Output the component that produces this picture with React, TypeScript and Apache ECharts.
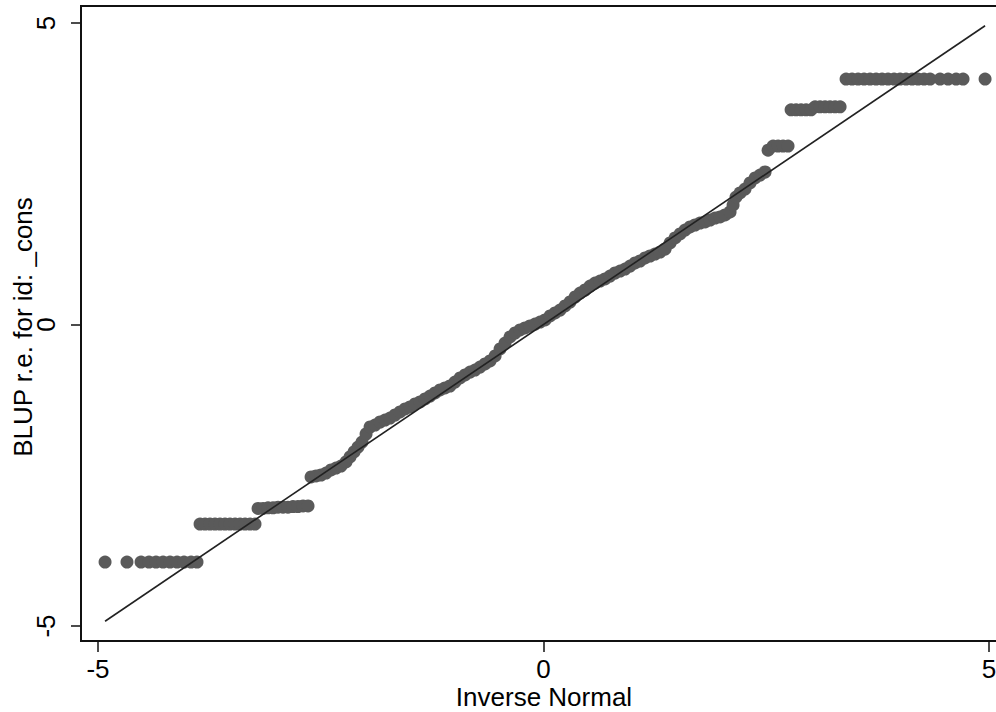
import React, { useEffect, useRef } from "react";
import * as echarts from "echarts";

// Inverse-normal quantiles (x) and the matching sorted BLUP values (y)
const invNormal: number[] = [
  -4.921, -4.675, -4.517, -4.428, -4.349, -4.27, -4.192, -4.113, -4.035, -3.956, -3.889,
  -3.855, -3.799, -3.743, -3.687, -3.631, -3.575, -3.519, -3.462, -3.406, -3.35, -3.294, -3.238,
  -3.204, -3.148, -3.092, -3.036, -2.98, -2.924, -2.868, -2.812, -2.756, -2.699, -2.643,
  -2.609, -2.553, -2.497, -2.441, -2.385, -2.329, -2.273, -2.217, -2.172, -2.127, -2.082, -2.037,
  -1.992, -1.947, -1.891, -1.835, -1.779, -1.723, -1.667, -1.611, -1.554, -1.498, -1.442, -1.386,
  -1.33, -1.274, -1.218, -1.162, -1.106, -1.05, -0.994, -0.937, -0.881, -0.825, -0.769, -0.713,
  -0.657, -0.601, -0.544, -0.488, -0.432, -0.376, -0.32, -0.264, -0.208, -0.152, -0.095, -0.039,
  0.017, 0.073, 0.129, 0.185, 0.241, 0.297, 0.354, 0.41, 0.466, 0.522, 0.578, 0.634, 0.69, 0.746,
  0.802, 0.859, 0.915, 0.971, 1.027, 1.083, 1.139, 1.195, 1.251, 1.308, 1.364, 1.42, 1.476, 1.532,
  1.588, 1.644, 1.7, 1.756, 1.813, 1.869, 1.925, 1.981, 2.037, 2.093, 2.127, 2.16, 2.205, 2.261,
  2.317, 2.374, 2.43, 2.486,
  2.52, 2.576, 2.632, 2.688, 2.744,
  2.778, 2.834, 2.89, 2.946, 3.002, 3.047, 3.103, 3.159, 3.215, 3.272, 3.328,
  3.395, 3.462, 3.53, 3.597, 3.664, 3.732, 3.799, 3.866, 3.934, 4.001, 4.068, 4.136, 4.203, 4.27,
  4.338, 4.45, 4.54, 4.63, 4.708, 4.955,
];

const blup: number[] = [
  -3.94, -3.94, -3.94, -3.94, -3.94, -3.94, -3.94, -3.94, -3.94, -3.94, -3.94,
  -3.31, -3.31, -3.31, -3.31, -3.31, -3.31, -3.31, -3.31, -3.31, -3.31, -3.31, -3.31,
  -3.05, -3.05, -3.04, -3.04, -3.03, -3.03, -3.03, -3.02, -3.02, -3.01, -3.01,
  -2.529, -2.512, -2.496, -2.463, -2.413, -2.38, -2.347, -2.28, -2.197, -2.114, -2.032, -1.949,
  -1.816, -1.7, -1.667, -1.617, -1.584, -1.551, -1.501, -1.451, -1.401, -1.368, -1.318, -1.285,
  -1.235, -1.186, -1.136, -1.086, -1.053, -1.02, -0.954, -0.887, -0.837, -0.788, -0.755, -0.705,
  -0.655, -0.605, -0.522, -0.406, -0.307, -0.207, -0.141, -0.091, -0.058, -0.025, 0.008, 0.041,
  0.075, 0.141, 0.191, 0.24, 0.307, 0.373, 0.456, 0.522, 0.572, 0.638, 0.688, 0.721, 0.755, 0.804,
  0.854, 0.887, 0.92, 0.97, 1.02, 1.053, 1.103, 1.136, 1.169, 1.202, 1.252, 1.352, 1.435, 1.501,
  1.567, 1.617, 1.65, 1.683, 1.7, 1.733, 1.766, 1.783, 1.816, 1.866, 1.982, 2.114, 2.181, 2.247,
  2.347, 2.43, 2.479, 2.529,
  2.89, 2.96, 2.96, 2.96, 2.96,
  3.56, 3.56, 3.56, 3.56, 3.56, 3.61, 3.61, 3.61, 3.61, 3.61, 3.61,
  4.07, 4.07, 4.07, 4.07, 4.07, 4.07, 4.07, 4.07, 4.07, 4.07, 4.07, 4.07, 4.07, 4.07,
  4.07, 4.07, 4.07, 4.07, 4.07, 4.07,
];

const xTicks: number[] = [-5, 0, 5];
const yTicks: number[] = [-5, 0, 5];
const xTitle = "Inverse Normal";
const yTitle = "BLUP r.e. for id: _cons";

const FONT = "'Liberation Sans', Arial, Helvetica, sans-serif";

export default function App() {
  const ref = useRef<HTMLDivElement>(null);

  useEffect(() => {
    if (!ref.current) return;
    const chart = echarts.init(ref.current, null, { renderer: "svg" });
    const points = invNormal.map((x, i) => [x, blup[i]]);
    const lo = Math.min(...invNormal);
    const hi = Math.max(...invNormal);

    chart.setOption({
      animation: false,
      backgroundColor: "#ffffff",
      grid: {
        left: 81,
        top: 6,
        width: 917,
        height: 635,
        containLabel: false,
        outerBoundsMode: "none",
        show: true,
        borderColor: "#111111",
        borderWidth: 2,
        backgroundColor: "transparent",
      },
      graphic: [
        {
          type: "text",
          x: 544,
          y: 697,
          style: {
            text: xTitle,
            fill: "#000000",
            font: `26px ${FONT}`,
            lineHeight: 26,
            align: "center",
            verticalAlign: "middle",
          },
        },
        {
          type: "text",
          x: 23,
          y: 327,
          rotation: Math.PI / 2,
          style: {
            text: yTitle,
            fill: "#000000",
            font: `26px ${FONT}`,
            lineHeight: 26,
            align: "center",
            verticalAlign: "middle",
          },
        },
      ],
      xAxis: {
        type: "value",
        min: -5.191,
        max: 5.1,
        splitLine: { show: false },
        axisLine: { show: true, onZero: false, lineStyle: { color: "#111111", width: 2 } },
        axisTick: {
          show: true,
          length: 11,
          customValues: xTicks,
          lineStyle: { color: "#111111", width: 1.5 },
        },
        axisLabel: {
          customValues: xTicks,
          margin: 15,
          fontSize: 26,
          lineHeight: 26,
          color: "#000000",
          fontFamily: FONT,
        },
      },
      yAxis: {
        type: "value",
        min: -5.249,
        max: 5.282,
        splitLine: { show: false },
        axisLine: { show: true, onZero: false, lineStyle: { color: "#111111", width: 2 } },
        axisTick: {
          show: true,
          length: 10,
          customValues: yTicks,
          lineStyle: { color: "#111111", width: 1.5 },
        },
        axisLabel: {
          customValues: yTicks,
          rotate: 90,
          margin: 22,
          fontSize: 26,
          lineHeight: 26,
          color: "#000000",
          fontFamily: FONT,
        },
      },
      series: [
        {
          type: "scatter",
          data: points,
          symbol: "circle",
          symbolSize: 13,
          itemStyle: { color: "#5a5a5a", opacity: 1 },
          z: 2,
        },
        {
          type: "line",
          data: [
            [lo, lo],
            [hi, hi],
          ],
          symbol: "none",
          lineStyle: { color: "#222222", width: 1.6 },
          z: 3,
        },
      ],
    });

    return () => chart.dispose();
  }, []);

  return (
    <div
      ref={ref}
      style={{ position: "fixed", left: 0, top: 0, width: 996, height: 712, background: "#fff" }}
    />
  );
}
